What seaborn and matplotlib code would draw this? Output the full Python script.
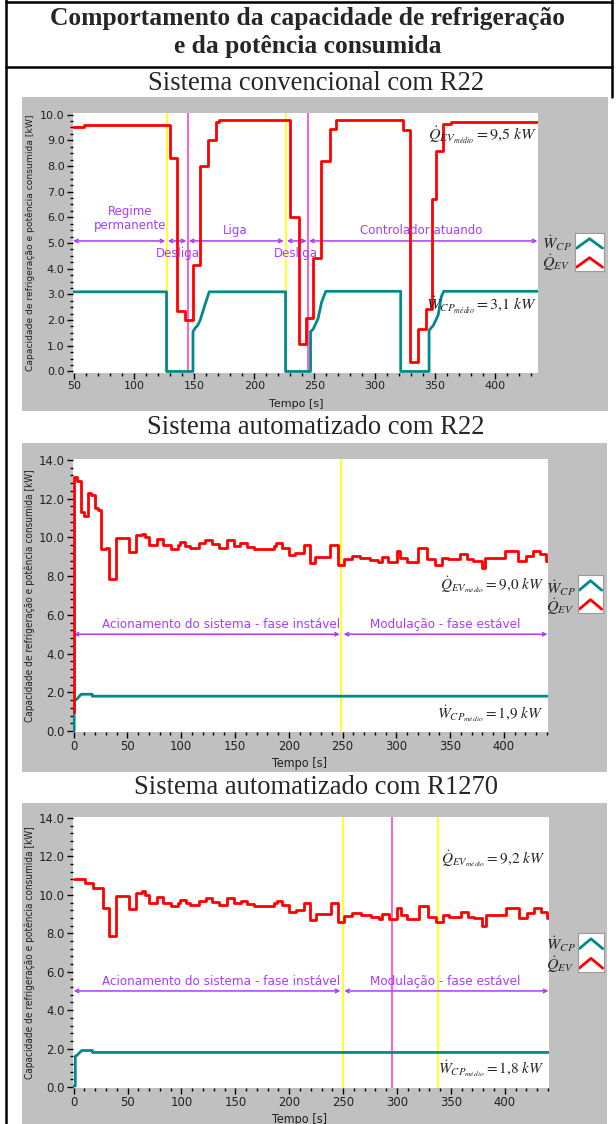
import matplotlib
matplotlib.use('Agg')
import matplotlib.pyplot as plt
import seaborn as sns
from matplotlib.patches import Rectangle
from matplotlib.lines import Line2D
from matplotlib.ticker import MultipleLocator, FormatStrFormatter

# ── Data ───────────────────────────────────────────────
# Sistema convencional com R22 : capacidade (steps) e potência
t_conv_q = [49, 58, 129.8, 136, 142, 149, 155, 161.6, 168, 171, 229.5, 237, 243, 249,
            255.9, 262.8, 268.3, 323.7, 329.3, 336.2, 343.2, 348.2, 350.9, 357, 364, 410, 437]
q_conv = [9.5, 9.6, 8.3, 2.35, 2.0, 4.15, 8.0, 9.0, 9.7, 9.78, 6.0, 1.05, 2.1, 4.4,
          8.2, 9.45, 9.8, 9.4, 0.35, 1.65, 2.45, 6.7, 8.6, 9.65, 9.72, 9.7, 9.7]
t_conv_w = [49, 127, 127, 149, 149, 151, 153, 155, 157, 159, 162.5, 226, 226, 246.8, 246.8,
            249, 253, 256, 259.5, 321.8, 321.8, 345.4, 345.4, 349, 353, 355.5, 357.6, 437]
w_conv = [3.1, 3.1, 0.0, 0.0, 1.55, 1.7, 1.8, 2.0, 2.3, 2.6, 3.1, 3.1, 0.0, 0.0, 1.55,
          1.65, 2.05, 2.7, 3.12, 3.12, 0.0, 0.0, 1.6, 1.8, 2.2, 2.9, 3.12, 3.12]
conv_yellow = [127, 226]
conv_magenta = [145, 245]

# Sistema automatizado com R22
t_r22_q = [0, 0.3, 3.4, 6.5, 9.6, 13.6, 15.8, 19.5, 22.6, 25.7,
           29.7, 32.8, 39.6, 51.3, 58.2, 63.7, 65.9, 69.9, 77.6, 83.2,
           90.6, 96.8, 98.7, 103.9, 108, 116.3, 122.5, 128.7, 134.9, 142.6,
           148.8, 154.9, 161.1, 167.4, 185.9, 188.4, 193.6, 199.8, 206, 213.8,
           219.3, 224.6, 238.6, 245.4, 251, 258.6, 266.4, 275.6, 283.4, 286.5,
           292.7, 300.4, 303.5, 309.7, 320.5, 328.3, 336, 342.2, 348.4, 359.2,
           365.4, 371.6, 379.3, 382.4, 400.9, 413.3, 421, 427.2, 433.4, 439.6, 441]
q_r22 = [1.0, 13.1, 12.9, 11.3, 11.1, 12.3, 12.2, 11.5, 11.4, 9.4,
         9.45, 7.85, 9.95, 9.25, 10.1, 10.2, 10.0, 9.6, 9.9, 9.6,
         9.4, 9.6, 9.75, 9.55, 9.45, 9.7, 9.85, 9.65, 9.45, 9.85,
         9.55, 9.7, 9.5, 9.4, 9.55, 9.7, 9.45, 9.1, 9.2, 9.6,
         8.7, 9.0, 9.6, 8.6, 8.9, 9.05, 8.95, 8.85, 8.75, 9.0,
         8.75, 9.3, 8.96, 8.75, 9.44, 8.87, 8.58, 8.96, 8.87, 9.13,
         8.87, 8.78, 8.4, 8.96, 9.3, 8.78, 9.04, 9.3, 9.13, 8.78, 8.78]
t_r22_w = [0, 0.5, 0.5, 3, 7, 17.3, 17.3, 441]
w_r22 = [0.0, 0.0, 1.55, 1.65, 1.9, 1.9, 1.8, 1.8]

# Sistema automatizado com R1270 (same modulation after ~40 s)
t_r1270_start = [0, 4.9, 10.1, 17.8, 26.9, 33.0]
q_r1270_start = [10.85, 10.8, 10.64, 10.33, 9.34, 7.84]
t_r1270_q = t_r1270_start + t_r22_q[12:]
q_r1270 = q_r1270_start + q_r22[12:]
t_r1270_w = [0, 1.5, 1.5, 3, 7.5, 17.5, 17.5, 441]
w_r1270 = [0.05, 0.05, 1.6, 1.65, 1.9, 1.9, 1.8, 1.8]
auto_yellow_r22 = [249]
auto_yellow_r1270 = [250, 338]
auto_magenta_r1270 = [295]

RED = '#ff0000'
TEAL = '#008a8a'
YELLOW = '#ffff00'
MAGENTA = '#ff44c4'
PURPLE = '#a83cff'
GRAY = '#c0c0c0'

sns.set_style('white')
plt.rcParams['font.family'] = ['DejaVu Sans']
plt.rcParams['mathtext.fontset'] = 'stix'
SERIF = ['Liberation Serif', 'DejaVu Serif']

W, H = 616, 1124
def fx(x): return x / W
def fy(y): return 1 - y / H

fig = plt.figure(figsize=(W / 100, H / 100), dpi=100)

# ── Table frame and headings ──────────────────────────
for (x0, y0, x1, y1) in [(6, 2, 612, 2), (6, 67, 612, 67), (6, 0, 6, H), (612, 0, 612, 97)]:
    fig.add_artist(Line2D([fx(x0), fx(x1)], [fy(y0), fy(y1)], color='black', lw=1.8))
fig.text(fx(308), fy(18), 'Comportamento da capacidade de refrigeração', ha='center', va='center',
         fontsize=18.4, fontweight='bold', family=SERIF)
fig.text(fx(308), fy(46), 'e da potência consumida', ha='center', va='center',
         fontsize=18.4, fontweight='bold', family=SERIF)
for y, s in [(83, 'Sistema convencional com R22'), (428, 'Sistema automatizado com R22'),
             (787, 'Sistema automatizado com R1270')]:
    fig.text(fx(316), fy(y), s, ha='center', va='center', fontsize=19.2, family=SERIF)

# gray LabVIEW panels
for (x0, y0, x1, y1) in [(22, 97, 608, 411), (22, 443, 607, 772), (22, 803, 607, 1130)]:
    fig.add_artist(Rectangle((fx(x0), fy(y1)), fx(x1) - fx(x0), fy(y0) - fy(y1),
                             facecolor=GRAY, edgecolor='none', zorder=0))


def legend_box(x0, y0, x1, y1, lx, ly_w, ly_q):
    lax = fig.add_axes([fx(x0), fy(y1), fx(x1) - fx(x0), fy(y0) - fy(y1)])
    lax.plot([0.05, 0.5, 0.95], [0.6, 0.85, 0.6], color=TEAL, lw=2)
    lax.plot([0.05, 0.5, 0.95], [0.1, 0.35, 0.1], color=RED, lw=2)
    lax.set_xlim(0, 1)
    lax.set_ylim(0, 1)
    lax.set_xticks([])
    lax.set_yticks([])
    for s in lax.spines.values():
        s.set_color('#9a9a9a')
        s.set_linewidth(0.8)
    fig.text(fx(lx), fy(ly_w), r'$\dot{W}_{CP}$', fontsize=11.5, va='center')
    fig.text(fx(lx), fy(ly_q), r'$\dot{Q}_{EV}$', fontsize=11.5, va='center')


def style_axes(ax, xlim, ylim, ymajor, yminor, fsize, stretch):
    ax.set_xlim(*xlim)
    ax.set_ylim(*ylim)
    ax.xaxis.set_major_locator(MultipleLocator(50))
    ax.xaxis.set_minor_locator(MultipleLocator(10))
    ax.yaxis.set_major_locator(MultipleLocator(ymajor))
    ax.yaxis.set_minor_locator(MultipleLocator(yminor))
    ax.yaxis.set_major_formatter(FormatStrFormatter('%.1f'))
    ax.tick_params(which='major', direction='out', length=4, width=1, color='black',
                   labelsize=fsize, pad=2, bottom=True, left=True, labelcolor='#202020')
    ax.tick_params(which='minor', direction='out', length=2.5, width=1, color='black',
                   bottom=True, left=True)
    for lab in ax.get_xticklabels() + ax.get_yticklabels():
        lab.set_fontstretch(stretch)
    for s in ax.spines.values():
        s.set_visible(False)
    ax.set_xlabel('')
    ax.set_ylabel('')
    ax.set_facecolor('white')


def ylabel(ycenter, fsize, stretch):
    fig.text(fx(30), fy(ycenter), 'Capacidade de refrigeração e potência consumida [kW]',
             rotation=90, ha='center', va='center', fontsize=fsize, fontstretch=stretch,
             color='#202020')


def arrow(ax, x0, x1, y):
    ax.annotate('', xy=(x1, y), xytext=(x0, y),
                arrowprops=dict(arrowstyle='<->', color=PURPLE, lw=1.1, mutation_scale=6,
                                shrinkA=0, shrinkB=0))

# ── Panel 1: Sistema convencional com R22 ─────────────
ax1 = fig.add_axes([fx(73), fy(373), fx(538) - fx(73), fy(113) - fy(373)])
for x in conv_yellow:
    ax1.axvline(x, color=YELLOW, lw=1.2, zorder=1)
for x in conv_magenta:
    ax1.axvline(x, color=MAGENTA, lw=1.2, zorder=1)
sns.lineplot(x=t_conv_w, y=w_conv, ax=ax1, color=TEAL, lw=2, estimator=None, sort=False, zorder=3)
sns.lineplot(x=t_conv_q, y=q_conv, ax=ax1, color=RED, lw=2, drawstyle='steps-post',
             estimator=None, sort=False, zorder=4)
style_axes(ax1, (49.2, 436), (-0.06, 10.06), 1, 0.25, 8, 'normal')
for x0, x1 in [(49.3, 126), (128, 143.5), (145.5, 224.5), (227, 243.5), (245.5, 435.5)]:
    arrow(ax1, x0, x1, 5.08)
ptxt = dict(color=PURPLE, fontsize=8.5, ha='center', va='center', zorder=5)
ax1.text(96.5, 5.96, 'Regime\npermanente', linespacing=1.05, **ptxt)
ax1.text(136.7, 4.6, 'Desliga', **ptxt)
ax1.text(183.8, 5.5, 'Liga', **ptxt)
ax1.text(235, 4.6, 'Desliga', **ptxt)
ax1.text(339, 5.5, 'Controlador atuando', **ptxt)
ax1.text(435, 9.2, r'$\dot{Q}_{EV_{médio}} = 9{,}5\ kW$', ha='right', va='center', fontsize=11.5, zorder=6)
ax1.text(435, 2.55, r'$\dot{W}_{CP_{médio}} = 3{,}1\ kW$', ha='right', va='center', fontsize=11.5, zorder=6)
ylabel(243, 6.6, 'normal')
fig.text(fx(296), fy(404), 'Tempo [s]', ha='center', va='center', fontsize=8, color='#202020')
legend_box(575, 233, 604, 271, 542, 243, 263)

# ── Panels 2 and 3: Sistema automatizado ──────────────
panels = [
    (459, 732, 548, t_r22_q, q_r22, t_r22_w, w_r22, auto_yellow_r22, [],
     r'$\dot{Q}_{EV_{médio}} = 9{,}0\ kW$', 7.55, r'$\dot{W}_{CP_{médio}} = 1{,}9\ kW$', 0.9,
     (578, 575, 603, 613, 546, 588, 607)),
    (817, 1088, 549, t_r1270_q, q_r1270, t_r1270_w, w_r1270, auto_yellow_r1270, auto_magenta_r1270,
     r'$\dot{Q}_{EV_{médio}} = 9{,}2\ kW$', 11.9, r'$\dot{W}_{CP_{médio}} = 1{,}8\ kW$', 0.95,
     (578, 933, 604, 972, 546, 944, 965)),
]
for (ytop, ybot, xright, tq, q, tw, w, yel, mag, qlab, qy, wlab, wy, leg) in panels:
    ax = fig.add_axes([fx(73), fy(ybot), fx(xright) - fx(73), fy(ytop) - fy(ybot)])
    for x in yel:
        ax.axvline(x, color=YELLOW, lw=1.2, zorder=1)
    for x in mag:
        ax.axvline(x, color=MAGENTA, lw=1.2, zorder=1)
    sns.lineplot(x=tw, y=w, ax=ax, color=TEAL, lw=2, estimator=None, sort=False, zorder=3)
    sns.lineplot(x=tq, y=q, ax=ax, color=RED, lw=2, drawstyle='steps-post',
                 estimator=None, sort=False, zorder=4)
    style_axes(ax, (-0.6, 441), (-0.05, 14.05), 2, 0.4, 9.3, 'condensed')
    arrow(ax, 0, 247.5, 5.0)
    arrow(ax, 251, 440.5, 5.0)
    ptxt = dict(color=PURPLE, fontsize=9.6, fontstretch='condensed', ha='center', va='center',
                zorder=5)
    ax.text(137, 5.5, 'Acionamento do sistema - fase instável', **ptxt)
    ax.text(345, 5.5, 'Modulação - fase estável', **ptxt)
    ax.text(437, qy, qlab, ha='right', va='center', fontsize=11, zorder=6,
            bbox=dict(facecolor='white', edgecolor='none', pad=1))
    ax.text(437, wy, wlab, ha='right', va='center', fontsize=11, zorder=6)
    ylabel((ytop + ybot) / 2, 7.2, 'condensed')
    fig.text(fx(300), fy(ybot + 31), 'Tempo [s]', ha='center', va='center', fontsize=9,
             fontstretch='condensed', color='#202020')
    legend_box(*leg)

fig.savefig('out.png', dpi=100)
